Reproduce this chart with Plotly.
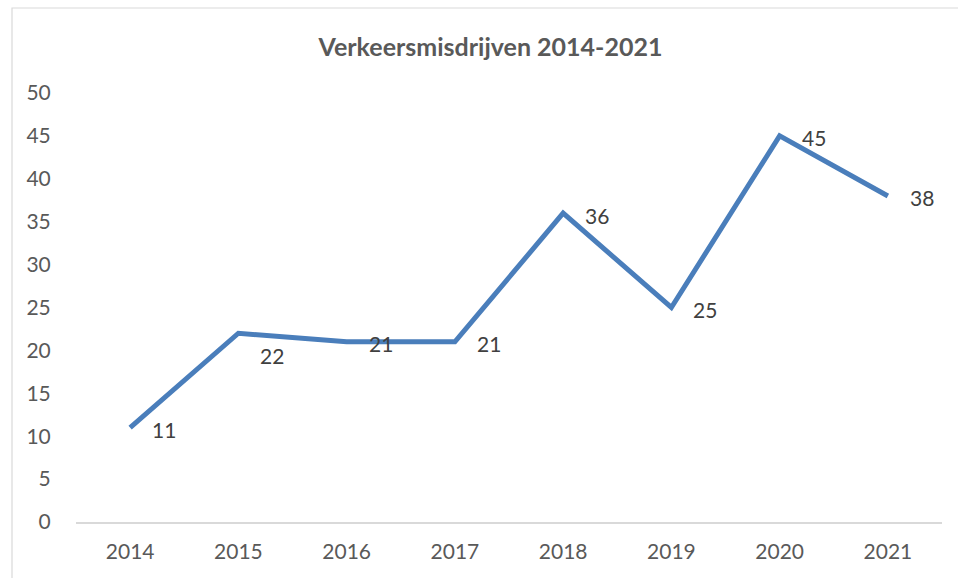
import plotly.graph_objects as go

years = ["2014", "2015", "2016", "2017", "2018", "2019", "2020", "2021"]
values = [11, 22, 21, 21, 36, 25, 45, 38]
label_pos = ["middle", "bottom", "middle", "middle", "middle", "middle", "middle", "middle"]
y_ticks = [0, 5, 10, 15, 20, 25, 30, 35, 40, 45, 50]

GREY = "#595959"
FONT = "Lato"

fig = go.Figure()
fig.add_trace(go.Scatter(
    x=years, y=values, mode="lines",
    line=dict(color="#4a7ebb", width=5),
    hoverinfo="skip", showlegend=False,
))

for i, (v, p) in enumerate(zip(values, label_pos)):
    fig.add_annotation(
        x=i, y=v, text=str(v), showarrow=False,
        xanchor="left", yanchor="middle" if p == "middle" else "top",
        xshift=20, yshift=-2 if p == "middle" else -8,
        font=dict(family=FONT, size=21, color="#404040"),
    )

L, R, T, B = 76, 16, 93, 56
W, H = 958, 578
pw, ph = W - L - R, H - T - B
fig.add_shape(
    type="rect", xref="paper", yref="paper",
    x0=(12 - L) / pw, x1=(W + 20 - L) / pw,
    y0=-(B + 20) / ph, y1=(H - B - 8) / ph,
    line=dict(color="#d9d9d9", width=1.2), fillcolor="rgba(0,0,0,0)", layer="below",
)

fig.update_layout(
    width=W, height=H,
    margin=dict(l=L, r=R, t=T, b=B),
    paper_bgcolor="white", plot_bgcolor="white",
    title=dict(text="<b>Verkeersmisdrijven 2014-2021</b>", x=0.512, xanchor="center",
               y=1 - 47 / H, yanchor="middle",
               font=dict(family=FONT, size=25, color=GREY)),
    font=dict(family=FONT, color=GREY),
)
fig.update_xaxes(
    type="category", range=[-0.5, 7.5], showgrid=False,
    showline=True, linecolor="#d9d9d9", linewidth=1.5,
    ticks="outside", ticklen=0, ticklabelstandoff=10,
    tickfont=dict(family=FONT, size=21, color=GREY), zeroline=False,
)
fig.update_yaxes(
    range=[0, 50], tickvals=y_ticks, showgrid=False, showline=False, zeroline=False,
    ticks="outside", ticklen=0, ticklabelstandoff=20,
    tickfont=dict(family=FONT, size=21, color=GREY),
)

fig.write_html("out.html", config={"displayModeBar": False},
               post_script="document.body.style.margin='0';document.body.style.overflow='hidden';")
